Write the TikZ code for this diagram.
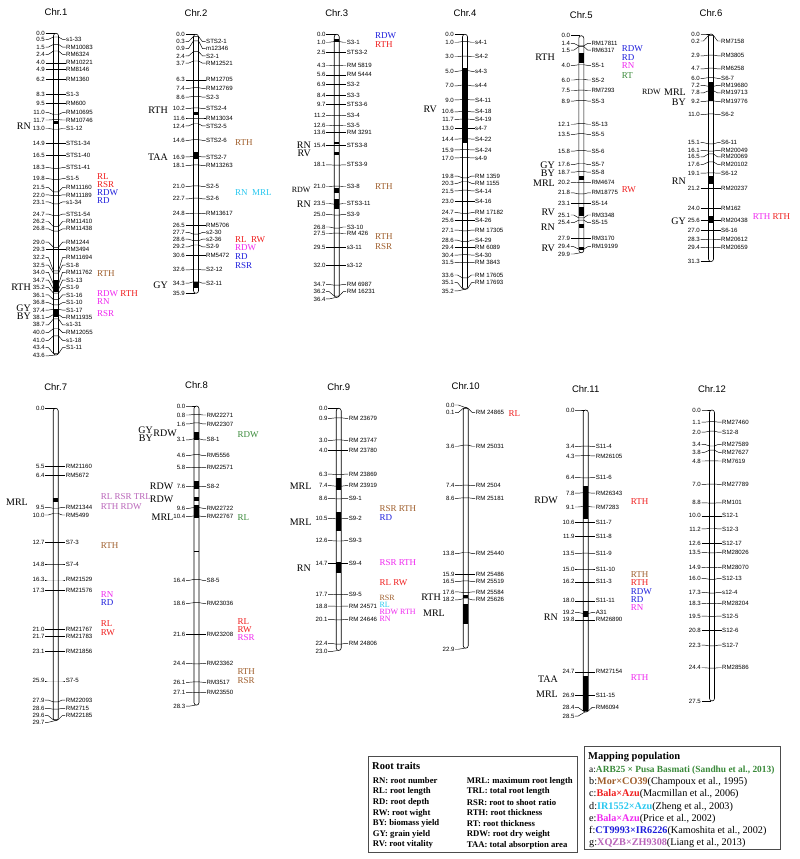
\documentclass[tikz,border=0pt]{standalone}
\usepackage{fontspec}
\setmainfont{Liberation Serif}
\setsansfont{Liberation Sans}
\usetikzlibrary{positioning}

\definecolor{popA}{RGB}{58,138,58}
\definecolor{popB}{RGB}{160,95,45}
\definecolor{popC}{RGB}{240,30,30}
\definecolor{popD}{RGB}{40,200,240}
\definecolor{popE}{RGB}{240,40,240}
\definecolor{popF}{RGB}{30,30,220}
\definecolor{popG}{RGB}{185,100,185}

\tikzset{
  tick/.style={line width=0.45pt},
  barline/.style={line width=0.6pt},
  num/.style={font=\sffamily\fontsize{6.1}{6.1}\selectfont, anchor=east, inner sep=0.5pt},
  mname/.style={num, anchor=west},
  chrtitle/.style={font=\sffamily\fontsize{9.5}{9.5}\selectfont},
  ltrait/.style={font=\fontsize{10}{10}\selectfont, anchor=east, inner sep=0pt, text height=6.6pt, text depth=0pt},
  rtrait/.style={font=\fontsize{9}{9}\selectfont, anchor=west, inner sep=0pt, text height=6pt, text depth=0pt},
  rtight/.style={rtrait, font=\fontsize{8}{8}\selectfont, text height=5.3pt},
  legbox/.style={draw=black!70, line width=0.8pt},
  legtext/.style={font=\bfseries\fontsize{8.7}{8.7}\selectfont, anchor=west, inner sep=0pt},
  poptext/.style={font=\fontsize{10.2}{10.2}\selectfont, anchor=west, inner sep=0pt},
}

% #1 px per cM, #2 title, #3 length, #4 label pos of 0.0, #5 label pos of end,
% #6 markers cM/label pos/name, #7 black segments from/to
\newcommand{\chromosome}[7]{
  \def\cmscale{#1}
  \node[chrtitle] (title) at (0,-21) {#2};
  \fill[white, rounded corners=2.5pt] (-2.5,0) rectangle (2.5,{#3*\cmscale});
  \node[num] (top) at (-10.5,{#4*\cmscale}) {0.0};
  \node[num] (bot) at (-10.5,{#5*\cmscale}) {#3};
  \draw[tick] (top.east) -- ++(3,0) -- (-1,0);
  \draw[tick] (bot.east) -- ++(3,0) -- (-1,{#3*\cmscale});
  \foreach \cm/\lp/\mn [count=\i, evaluate={\yc=\cm*\cmscale; \yl=\lp*\cmscale;}] in {#6}{
    \node[num] (l\i) at (-10.5,\yl) {\cm};
    \node[mname] (r\i) at (9.5,\yl) {\mn};
    \draw[tick] (l\i.east) -- ++(3,0) -- (-2.5,\yc) -- (2.5,\yc) -- ([xshift=-3pt]r\i.west) -- (r\i.west);
  }
  \foreach \qa/\qb in {#7}{
    \fill (-2.5,{\qa*\cmscale}) rectangle (2.5,{\qb*\cmscale});
  }
  \draw[barline, rounded corners=2.5pt] (-2.5,0) rectangle (2.5,{#3*\cmscale});
}

\begin{document}
\begin{tikzpicture}[x=1pt, y=-1pt]
\fill[white] (0,0) rectangle (800,859);
\useasboundingbox (0,0) rectangle (800,859);

% Chr.1
\begin{scope}[shift={(56,33.3)}, name prefix=c1-]
\chromosome{7.38}{Chr.1}{43.6}{0}{43.7}{0.5/0.82/s1-33, 1.5/1.86/RM10083, 2.4/2.85/RM6324, 4.0/4.0/RM10221,
  4.9/4.9/RM8146, 6.2/6.2/RM1360, 8.3/8.3/S1-3, 9.5/9.5/RM600, 11.0/10.75/RM10695, 11.7/11.75/RM10746,
  13.0/12.9/S1-12, 14.9/14.9/STS1-34, 16.5/16.5/STS1-40, 18.3/18.2/STS1-41, 19.8/19.7/S1-5,
  21.5/20.9/RM11160, 22.0/21.9/RM11189, 23.1/22.85/s1-34, 24.7/24.5/STS1-54, 26.2/25.5/RM11410,
  26.8/26.5/RM11438, 29.0/28.3/RM1244, 29.3/29.3/RM3494, 32.2/30.4/RM11694, 32.5/31.4/S1-8,
  34.0/32.4/RM11762, 34.7/33.45/S1-13, 35.2/34.45/S1-9, 36.1/35.45/S1-16, 36.8/36.5/S1-10,
  37.4/37.5/S1-17, 38.1/38.5/RM11935, 38.7/39.5/s1-31, 40.0/40.55/RM12055, 41.0/41.6/s1-18, 43.4/42.6/S1-11}
  {11.9/12.3, 33.4/35.0, 37.3/38.4}
\end{scope}
\node[ltrait] (c1rn) at (31,125.7) {RN};
\node[ltrait] (c1rth) at (31,287) {RTH};
\node[ltrait] (c1gy) at (31,307.8) {GY};
\node[ltrait] (c1by) at (31,316.2) {BY};
\node[rtrait, popC] (c1rl) at (97,176.7) {RL};
\node[rtrait, popC] (c1rsr) at (97,184.3) {RSR};
\node[rtrait, popF] (c1rdw) at (97,192.3) {RDW};
\node[rtrait, popF] (c1rd) at (97,200.3) {RD};
\node[rtrait, popB] (c1rthb) at (97,273.3) {RTH};
\node[rtrait] (c1rdwe) at (97,293) {\color{popE}RDW \color{popC}RTH};
\node[rtrait, popE] (c1rne) at (97,301.5) {RN};
\node[rtrait, popE] (c1rsre) at (97,313.3) {RSR};

% Chr.2
\begin{scope}[shift={(196,34.3)}, name prefix=c2-]
\chromosome{7.215}{Chr.2}{35.9}{0}{35.9}{0.3/1.02/STS2-1, 0.9/1.99/m12346, 2.4/3.0/S2-1, 3.7/4.0/RM12521,
  6.3/6.3/RM12705, 7.4/7.5/RM12769, 8.6/8.7/S2-3, 10.2/10.3/STS2-4, 11.6/11.6/RM13034, 12.4/12.7/STS2-5,
  14.6/14.7/STS2-6, 16.9/17.0/STS2-7, 18.1/18.2/RM13263, 21.0/21.1/S2-5, 22.7/22.8/S2-6,
  24.8/24.85/RM13617, 26.5/26.5/RM5706, 27.7/27.45/s2-30, 28.6/28.4/s2-36, 29.2/29.45/S2-9,
  30.6/30.6/RM5472, 32.6/32.65/S2-12, 34.3/34.5/S2-11}
  {10.7/11.2, 16.3/17.3, 34.3/35.2}
\end{scope}
\node[ltrait] (c2rth) at (168,110) {RTH};
\node[ltrait] (c2taa) at (168,156.7) {TAA};
\node[ltrait] (c2gy) at (168,285) {GY};
\node[rtrait, popB] (c2rthb) at (235,142.7) {RTH};
\node[rtrait, popD] (c2rnd) at (235,192.7) {RN\ \ MRL};
\node[rtrait, popC] (c2rlc) at (235,239.3) {RL\ \ RW};
\node[rtrait, popE] (c2rdwe) at (235,247.5) {RDW};
\node[rtrait, popF] (c2rdf) at (235,256.7) {RD};
\node[rtrait, popF] (c2rsrf) at (235,265) {RSR};

% Chr.3
\begin{scope}[shift={(336.7,34.3)}, name prefix=c3-]
\chromosome{7.23}{Chr.3}{36.4}{0}{36.6}{1.0/1.1/S3-1, 2.5/2.5/STS3-2, 4.3/4.35/RM 5819, 5.6/5.6/RM 5444,
  6.9/6.9/S3-2, 8.4/8.4/S3-3, 9.7/9.7/STS3-6, 11.2/11.25/S3-4, 12.6/12.65/S3-5, 13.6/13.6/RM 3291,
  15.4/15.4/STS3-8, 18.1/18.05/STS3-9, 21.0/21.05/S3-8, 23.5/23.4/STS3-11, 25.0/24.9/S3-9,
  26.8/26.65/S3-10, 27.5/27.55/RM 426, 29.5/29.5/s3-11, 32.0/32.0/s3-12, 34.7/34.6/RM 6987, 36.2/35.6/RM 16231}
  {0.7/1.1, 14.9/15.2, 16.3/16.7, 21.2/22.0, 22.8/24.1}
\end{scope}
\node[ltrait] (c3rn) at (311,144.8) {RN};
\node[ltrait] (c3rv) at (311,153.5) {RV};
\node[ltrait, font=\fontsize{8}{8}\selectfont, text height=5.3pt] (c3rdw) at (310.7,190) {RDW};
\node[ltrait] (c3rn2) at (311,204) {RN};
\node[rtrait, popF] (c3rdwf) at (375,36) {RDW};
\node[rtrait, popC] (c3rthc) at (375,44.3) {RTH};
\node[rtrait, popB] (c3rthb) at (375,186.7) {RTH};
\node[rtrait, popB] (c3rthb2) at (375,236.7) {RTH};
\node[rtrait, popB] (c3rsrb) at (375,246.7) {RSR};

% Chr.4
\begin{scope}[shift={(465,34.3)}, name prefix=c4-]
\chromosome{7.25}{Chr.4}{35.2}{0}{35.4}{1.0/1.1/s4-1, 3.0/3.1/S4-2, 5.0/5.1/s4-3, 7.0/7.1/s4-4,
  9.0/9.05/S4-11, 10.6/10.7/S4-18, 11.7/11.73/S4-19, 13.0/13.0/s4-7, 14.4/14.45/S4-22, 15.9/15.95/S4-24,
  17.0/17.05/s4-9, 19.8/19.55/RM 1359, 20.3/20.55/RM 1155, 21.5/21.6/S4-14, 23.0/23.0/S4-16,
  24.7/24.6/RM 17182, 25.6/25.6/S4-26, 27.1/27.0/RM 17305, 28.6/28.4/S4-29, 29.4/29.4/RM 6089,
  30.4/30.45/S4-30, 31.5/31.45/RM 3843, 33.6/33.2/RM 17605, 35.1/34.25/RM 17693}
  {4.7/15.0}
\end{scope}
\node[ltrait] (c4rv) at (437,109) {RV};

% Chr.5
\begin{scope}[shift={(581.3,35.7)}, name prefix=c5-]
\chromosome{7.26}{Chr.5}{29.9}{0}{30.07}{1.4/1.05/RM17811, 1.5/2.0/RM6317, 4.0/4.1/S5-1, 6.0/6.1/S5-2,
  7.5/7.55/RM7293, 8.9/9.0/S5-3, 12.1/12.2/S5-13, 13.5/13.6/S5-5, 15.8/15.9/S5-6, 17.6/17.75/S5-7,
  18.7/18.8/S5-8, 20.2/20.25/RM4674, 21.8/21.65/RM18775, 23.1/23.1/S5-14, 25.1/24.7/RM3348,
  25.4/25.75/S5-15, 27.9/27.9/RM3170, 29.4/29.06/RM19199}
  {2.4/3.8, 19.3/19.9, 23.6/24.9, 25.9/26.5, 29.1/29.5}
\end{scope}
\node[ltrait] (c5rth) at (555,57.7) {RTH};
\node[ltrait] (c5gy) at (555,164.7) {GY};
\node[ltrait] (c5by) at (555,173) {BY};
\node[ltrait] (c5mrl) at (555,182.7) {MRL};
\node[ltrait] (c5rv) at (555,211.7) {RV};
\node[ltrait] (c5rn) at (555,226.7) {RN};
\node[ltrait] (c5rv2) at (555,248.3) {RV};
\node[rtrait, popF] (c5rdwf) at (621.7,48.5) {RDW};
\node[rtrait, popF] (c5rdf) at (621.7,57) {RD};
\node[rtrait, popE] (c5rne) at (621.7,65.5) {RN};
\node[rtrait, popA] (c5rta) at (621.7,75) {RT};
\node[rtrait, popC] (c5rwc) at (621.7,189.3) {RW};

% Chr.6
\begin{scope}[shift={(711,34)}, name prefix=c6-]
\chromosome{7.27}{Chr.6}{31.3}{0}{31.3}{0.2/0.96/RM7158, 2.9/3.0/RM3805, 4.7/4.8/RM6258, 6.0/6.1/S6-7,
  7.2/7.06/RM19680, 7.8/8.1/RM19713, 9.2/9.3/RM19776, 11.0/11.1/S6-2, 15.1/14.95/S6-11,
  16.1/16.0/RM20049, 16.5/16.9/RM20069, 17.6/17.93/RM20102, 19.1/19.15/S6-12, 21.2/21.2/RM20237,
  24.0/24.0/RM162, 25.6/25.6/RM20438, 27.0/27.0/S6-16, 28.3/28.25/RM20612, 29.4/29.35/RM20659}
  {6.56/9.17, 19.5/20.7, 25.1/25.95}
\end{scope}
\node[ltrait] (c6mrl) at (686,92) {MRL};
\node[ltrait, font=\fontsize{8}{8}\selectfont, text height=5.3pt, left=3pt of c6mrl] (c6rdw) {RDW};
\node[ltrait] (c6by) at (686,102) {BY};
\node[ltrait] (c6rn) at (686,181) {RN};
\node[ltrait] (c6gy) at (686,221) {GY};
\node[rtrait] (c6rth) at (752.7,216) {\color{popE}RTH \color{popC}RTH};

% Chr.7
\begin{scope}[shift={(55.7,408.3)}, name prefix=c7-]
\chromosome{10.52}{Chr.7}{29.7}{0}{29.85}{5.5/5.5/RM21160, 6.4/6.4/RM5672, 9.5/9.41/RM21344,
  10.0/10.14/RM5499, 12.7/12.7/S7-3, 14.8/14.8/S7-4, 16.3/16.3/RM21529, 17.3/17.3/RM21576,
  21.0/21.0/RM21767, 21.7/21.7/RM21783, 23.1/23.1/RM21856, 25.9/25.9/S7-5, 27.9/27.73/RM22093,
  28.6/28.52/RM2715, 29.6/29.22/RM22185}
  {8.5/8.9}
\end{scope}
\node[ltrait] (c7mrl) at (28,502.3) {MRL};
\node[rtrait, popG] (c7rlg) at (100.7,496) {RL RSR TRL};
\node[rtrait, popG] (c7rthg) at (100.7,506.7) {RTH RDW};
\node[rtrait, popB] (c7rthb) at (100.7,545) {RTH};
\node[rtrait, popE] (c7rne) at (100.7,594) {RN};
\node[rtrait, popF] (c7rdf) at (100.7,602.5) {RD};
\node[rtrait, popC] (c7rlc) at (100.7,623.3) {RL};
\node[rtrait, popC] (c7rwc) at (100.7,632.7) {RW};

% Chr.8
\begin{scope}[shift={(196.5,406)}, name prefix=c8-]
\chromosome{10.57}{Chr.8}{28.3}{0}{28.4}{0.8/0.85/RM22271, 1.6/1.7/RM22307, 3.1/3.2/S8-1,
  4.6/4.7/RM5556, 5.8/5.83/RM22571, 7.6/7.63/S8-2, 9.6/9.68/RM22722, 10.4/10.47/RM22767,
  16.4/16.5/S8-5, 18.6/18.67/RM23036, 21.6/21.6/RM23208, 24.4/24.35/RM23362, 26.1/26.14/RM3517,
  27.1/27.12/RM23550}
  {2.5/3.2, 7.1/7.85, 8.6/9.0, 9.35/10.55}
\draw[tick] (-2.5,{13.7*10.57}) -- (2.5,{13.7*10.57});
\end{scope}
\node[ltrait] (c8gy) at (153,430) {GY};
\node[ltrait] (c8by) at (153,438.5) {BY};
\node[ltrait] (c8rdw) at (177,432.7) {RDW};
\node[ltrait] (c8rdw2) at (173.5,485.7) {RDW};
\node[ltrait] (c8rdw3) at (173.5,499) {RDW};
\node[ltrait] (c8mrl) at (173.5,516.7) {MRL};
\node[rtrait, popA] (c8rdwa) at (237.3,434.3) {RDW};
\node[rtrait, popA] (c8rla) at (237.3,517.7) {RL};
\node[rtrait, popC] (c8rlc) at (237.3,621.5) {RL};
\node[rtrait, popC] (c8rwc) at (237.3,629.3) {RW};
\node[rtrait, popE] (c8rsre) at (237.3,637) {RSR};
\node[rtrait, popB] (c8rthb) at (237.3,671) {RTH};
\node[rtrait, popB] (c8rsrb) at (237.3,680) {RSR};

% Chr.9
\begin{scope}[shift={(338.7,408.3)}, name prefix=c9-]
\chromosome{10.53}{Chr.9}{23.0}{0}{23.1}{0.9/0.95/RM 23679, 3.0/3.05/RM 23747, 4.0/4.0/RM 23780,
  6.3/6.25/RM 23869, 7.4/7.35/RM 23919, 8.6/8.55/S9-1, 10.5/10.45/S9-2, 12.6/12.57/S9-3,
  14.7/14.7/S9-4, 17.7/17.67/S9-5, 18.8/18.78/RM 24571, 20.1/20.04/RM 24646, 22.4/22.32/RM 24806}
  {6.6/7.76, 9.8/11.65, 14.55/15.67}
\end{scope}
\node[ltrait] (c9mrl) at (311.7,485.7) {MRL};
\node[ltrait] (c9mrl2) at (311.7,521.7) {MRL};
\node[ltrait] (c9rn) at (311,568.3) {RN};
\node[rtrait, popB] (c9rsrb) at (379.3,508.3) {RSR RTH};
\node[rtrait, popF] (c9rdf) at (379.3,517.3) {RD};
\node[rtrait, popE] (c9rsre) at (379.3,562.3) {RSR RTH};
\node[rtrait, popC] (c9rlc) at (379.3,582.3) {RL RW};
\node[rtight, popB] (c9rsrb2) at (379.3,597.5) {RSR};
\node[rtight, popD] (c9rld) at (379.3,604.5) {RL};
\node[rtight, popE] (c9rdwe) at (379.3,611.5) {RDW RTH};
\node[rtight, popE] (c9rne) at (379.3,618.5) {RN};

% Chr.10
\begin{scope}[shift={(465.7,407.3)}, name prefix=c10-]
\chromosome{10.52}{Chr.10}{22.9}{-0.22}{23.0}{0.1/0.5/RM 24865, 3.6/3.7/RM 25031, 7.4/7.45/RM 2504,
  8.6/8.65/RM 25181, 13.8/13.9/RM 25440, 15.9/15.9/RM 25486, 16.5/16.57/RM 25519,
  17.6/17.55/RM 25584, 18.2/18.3/RM 25626}
  {17.8/18.1, 18.7/20.6}
\end{scope}
\node[ltrait] (c10rth) at (441,596.7) {RTH};
\node[ltrait] (c10mrl) at (445,613.3) {MRL};
\node[rtrait, popC] (c10rlc) at (508.3,413.3) {RL};

% Chr.11
\begin{scope}[shift={(585.7,410)}, name prefix=c11-]
\chromosome{10.6}{Chr.11}{28.5}{0}{28.87}{3.4/3.45/S11-4, 4.3/4.33/RM26105, 6.4/6.38/S11-6,
  7.8/7.85/RM26343, 9.1/9.15/RM7283, 10.6/10.6/S11-7, 11.9/11.9/S11-8, 13.5/13.55/S11-9,
  15.0/15.0/S11-10, 16.2/16.2/S11-3, 18.0/18.0/S11-11, 19.2/19.1/A31, 19.8/19.8/RM26890,
  24.7/24.7/RM27154, 26.9/26.9/S11-15, 28.4/28.05/RM6094}
  {7.2/10.3, 19.0/19.5, 25.1/28.4}
\end{scope}
\node[ltrait] (c11rdw) at (558,500) {RDW};
\node[ltrait] (c11rn) at (558,616.7) {RN};
\node[ltrait] (c11taa) at (558,679) {TAA};
\node[ltrait] (c11mrl) at (558,694.3) {MRL};
\node[rtrait, popC] (c11rthc) at (630.7,501) {RTH};
\node[rtrait, popB] (c11rthb) at (630.7,574.3) {RTH};
\node[rtrait, popC] (c11rthc2) at (630.7,582.7) {RTH};
\node[rtrait, popF] (c11rdwf) at (630.7,591) {RDW};
\node[rtrait, popF] (c11rdf) at (630.7,599.3) {RD};
\node[rtrait, popE] (c11rne) at (630.7,607.3) {RN};
\node[rtrait, popE] (c11rthe) at (630.7,677.3) {RTH};

% Chr.12
\begin{scope}[shift={(712,410)}, name prefix=c12-]
\chromosome{10.58}{Chr.12}{27.5}{0}{27.5}{1.1/1.15/RM27460, 2.0/2.1/S12-8, 3.4/3.24/RM27589,
  3.8/4.0/RM27627, 4.8/4.82/RM7619, 7.0/7.03/RM27789, 8.8/8.77/RM101, 10.0/10.0/S12-1,
  11.2/11.24/S12-3, 12.6/12.6/S12-17, 13.5/13.48/RM28026, 14.9/14.88/RM28070, 16.0/15.92/S12-13,
  17.3/17.23/s12-4, 18.3/18.28/RM28204, 19.5/19.48/S12-5, 20.8/20.8/S12-6, 22.3/22.22/S12-7,
  24.4/24.36/RM28586}
  {}
\end{scope}

% legend: root traits
\draw[legbox] (368,756) rectangle (577,852);
\node[legtext, font=\bfseries\fontsize{10.5}{10.5}\selectfont] (rt) at (372,765.5) {Root traits};
\foreach \ta/\tb [count=\i, evaluate={\ty=781+10.65*(\i-1);}] in {RN: root number/MRL: maximum root length,
  RL: root length/TRL: total root length, RD: root depth/RSR: root to shoot ratio,
  RW: root wight/RTH: root thickness, BY: biomass yield/RT: root thickness,
  GY: grain yield/RDW: root dry weight, RV: root vitality/TAA: total absorption area}{
  \node[legtext] (rta\i) at (372.7,\ty) {\ta};
  \node[legtext] (rtb\i) at (466.7,\ty) {\tb};
}

% legend: mapping population
\draw[legbox] (584,746) rectangle (780,849);
\node[legtext, font=\bfseries\fontsize{10.5}{10.5}\selectfont] (mp) at (588,756.7) {Mapping population};
\node[poptext, font=\fontsize{9.4}{9.4}\selectfont] (pa) at (589,770) {a:\textcolor{popA}{\textbf{ARB25 × Pusa Basmati (Sandhu et al., 2013)}}};
\node[poptext] (pb) at (589,782.2) {b:\textcolor{popB}{\textbf{Mor×CO39}}(Champoux et al., 1995)};
\node[poptext] (pc) at (589,794.4) {c:\textcolor{popC}{\textbf{Bala×Azu}}(Macmillan et al., 2006)};
\node[poptext] (pd) at (589,806.6) {d:\textcolor{popD}{\textbf{IR1552×Azu}}(Zheng et al., 2003)};
\node[poptext] (pe) at (589,818.8) {e:\textcolor{popE}{\textbf{Bala×Azu}}(Price et al., 2002)};
\node[poptext] (pf) at (589,831) {f:\textcolor{popF}{\textbf{CT9993×IR6226}}(Kamoshita et al., 2002)};
\node[poptext] (pg) at (589,843.2) {g:\textcolor{popG}{\textbf{XQZB×ZH9308}}(Liang et al., 2013)};
\end{tikzpicture}
\end{document}
